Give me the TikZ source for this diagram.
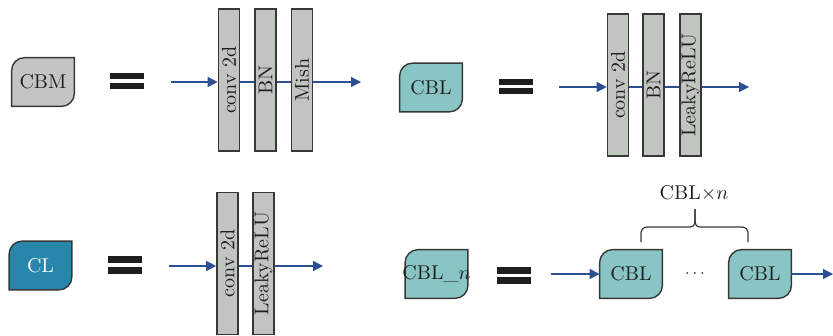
\documentclass[tikz,border=0pt]{standalone}
\usetikzlibrary{arrows.meta}
\definecolor{edgec}{HTML}{353835}
\definecolor{barfill}{HTML}{C0C5BF}
\definecolor{cbmfill}{HTML}{C2C6C1}
\definecolor{cblfill}{HTML}{8AC5C5}
\definecolor{clfill}{HTML}{2986AB}
\definecolor{flow}{HTML}{2B4F92}
\definecolor{inkc}{HTML}{1E1E1E}
\tikzset{
  blk/.style={rectangle, inner sep=0pt, minimum width=31pt, minimum height=24pt, text=inkc},
  layer/.style={rectangle, draw=edgec, line width=0.8pt, fill=barfill, inner sep=0pt,
    minimum width=10.5pt, minimum height=71pt, text=inkc},
  arr/.style={draw=flow, line width=0.6pt, -{Triangle[length=5pt,width=5pt]}},
  link/.style={draw=flow, line width=0.6pt},
  eqbar/.style={fill=inkc},
  bracec/.style={draw=edgec, line width=0.6pt},
}
% leaf-shaped block outline: rounded top-left and bottom-right corners
\newcommand{\leafbox}[2]{%
  \draw[draw=edgec, line width=0.7pt, fill=#2]
    (#1.west) [rounded corners=6.5pt] -- (#1.north west) [sharp corners] -- (#1.north east)
    [rounded corners=6.5pt] -- (#1.south east) [sharp corners] -- (#1.south west) -- cycle;}
% the "=" sign between a block and its expansion
\newcommand{\eqsign}[3]{%
  \fill[eqbar] (#1,#2) rectangle ++(34,6.5);
  \fill[eqbar] (#1,#3) rectangle ++(34,6.5);}
\begin{document}
\begin{tikzpicture}[x=0.5pt, y=-0.5pt]
\useasboundingbox (0,0) rectangle (833,336);

% ---------- CBM ----------
\node[blk] (cbm) at (43,82) {};
\leafbox{cbm}{cbmfill}
\node[text=inkc] at (cbm) {CBM};
\eqsign{110}{73}{83}
\node[layer] (m1) at (229,80) {\rotatebox{90}{conv 2d}};
\node[layer] (m2) at (265.5,80) {\rotatebox{90}{BN}};
\node[layer] (m3) at (302,80) {\rotatebox{90}{Mish}};
\coordinate (min) at (171,82);
\coordinate (mout) at (361,82);
\draw[arr] (min) -- (min -| m1.west);
\draw[link] (m1.east |- min) -- (m2.west |- min);
\draw[link] (m2.east |- min) -- (m3.west |- min);
\draw[arr] (m3.east |- min) -- (mout);

% ---------- CBL ----------
\node[blk] (cbl) at (431,87.5) {};
\leafbox{cbl}{cblfill}
\node[text=inkc] at (cbl) {CBL};
\eqsign{499}{79}{88}
\node[layer] (l1) at (618,85) {\rotatebox{90}{conv 2d}};
\node[layer] (l2) at (653.5,85) {\rotatebox{90}{BN}};
\node[layer] (l3) at (690.5,85) {\rotatebox{90}{LeakyReLU}};
\coordinate (lin) at (559,87);
\coordinate (lout) at (749,87);
\draw[arr] (lin) -- (lin -| l1.west);
\draw[link] (l1.east |- lin) -- (l2.west |- lin);
\draw[link] (l2.east |- lin) -- (l3.west |- lin);
\draw[arr] (l3.east |- lin) -- (lout);

% ---------- CL ----------
\node[blk] (cl) at (40.5,265.5) {};
\leafbox{cl}{clfill}
\node[text=white] at (cl) {CL};
\eqsign{108}{256}{267}
\node[layer] (c1) at (227.5,263.5) {\rotatebox{90}{conv 2d}};
\node[layer] (c2) at (263.5,263.5) {\rotatebox{90}{LeakyReLU}};
\coordinate (cin) at (169,266);
\coordinate (cout) at (323,266);
\draw[arr] (cin) -- (cin -| c1.west);
\draw[link] (c1.east |- cin) -- (c2.west |- cin);
\draw[arr] (c2.east |- cin) -- (cout);

% ---------- CBL_n ----------
\node[blk] (cbln) at (436.5,274) {};
\leafbox{cbln}{cblfill}
\node[text=inkc, inner sep=0pt] at (cbln) {CBL\_$n$};
\eqsign{497}{267}{277}
\node[blk] (r1) at (631,274) {};
\leafbox{r1}{cblfill}
\node[text=inkc] at (r1) {CBL};
\node[text=inkc, font=\footnotesize] (dots) at (695,274) {$\cdots$};
\node[blk] (r2) at (760,274) {};
\leafbox{r2}{cblfill}
\node[text=inkc] at (r2) {CBL};
\coordinate (nin) at (551,274);
\coordinate (nout) at (833,274);
\draw[arr] (nin) -- (r1.west);
\draw[arr] (r2.east) -- (nout);

% brace over the repeated CBL blocks
\coordinate (bl) at (641,242);
\coordinate (br) at (748,242);
\coordinate (tip) at (695,209);
\draw[bracec] (bl) [rounded corners=3pt] -- (641,227) [sharp corners] -- (690,227)
  .. controls (693.5,227) and (695,225) .. (695,219) -- (tip);
\draw[bracec] (br) [rounded corners=3pt] -- (748,227) [sharp corners] -- (700,227)
  .. controls (696.5,227) and (695,225) .. (695,219) -- (tip);
\node[text=inkc] (times) at (694,193) {CBL$\times n$};
\end{tikzpicture}
\end{document}
